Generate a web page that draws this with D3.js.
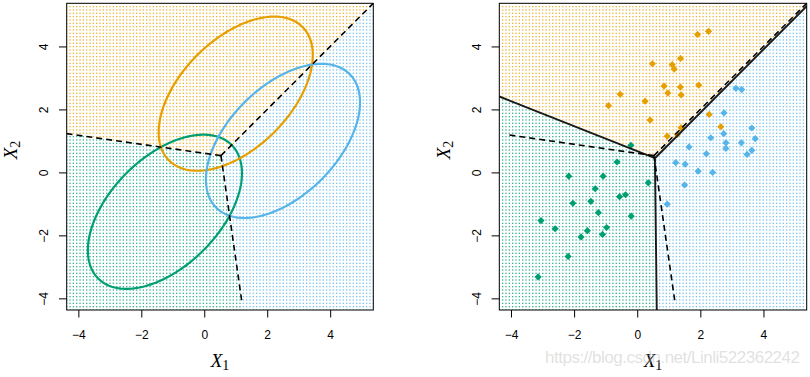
<!DOCTYPE html>
<html>
<head>
<meta charset="utf-8">
<script src="https://cdn.jsdelivr.net/npm/d3@7"></script>
<style>
  body { margin: 0; background: #fff; }
</style>
</head>
<body>
<svg id="chart" width="810" height="377"></svg>
<script>
// classes: 0 green, 1 orange, 2 blue
const classColors = ['#009E73', '#E69F00', '#56B4E9']
const trueMeans = [[-1.25, -1.25], [1, 2.5], [2.5, 1]]
const sharedCov = [[1, 0.5], [0.5, 1]]
const contourChi2 = 5.991   // 95% contour, 2 df
const tickValues = [-4, -2, 0, 2, 4]
const axisDomain = [-4.37, 5.37]
const gridN = 93

// observations (right panel)
const greenX = [-0.20, -0.64, -2.17, -1.08, 0.35, -1.33, -0.56, -0.37, -1.47, -2.04, -1.23, -0.19, -3.05, -0.97, -2.60, -1.58, -1.10, -1.78, -2.19, -3.14]
const greenY = [0.86, 0.33, -0.12, -0.12, -0.33, -0.52, -0.77, -0.71, -0.92, -0.98, -1.28, -1.39, -1.53, -1.75, -1.79, -1.85, -1.97, -2.05, -2.67, -3.32]
const orangeX = [1.91, 2.26, 0.48, 1.11, 1.17, 1.37, 0.85, 0.97, 1.37, 1.39, 1.95, -0.54, -0.91, 0.25, 0.41, 0.95, 1.27, 1.39, 2.28, 2.65]
const orangeY = [4.38, 4.48, 3.45, 3.42, 3.28, 3.62, 2.74, 2.52, 2.71, 2.46, 2.77, 2.48, 2.12, 2.26, 1.66, 1.15, 1.20, 1.42, 1.84, 1.45]
const blueX = [3.13, 3.31, 2.75, 3.63, 2.33, 2.74, 3.74, 1.64, 2.81, 2.81, 3.30, 3.63, 3.48, 2.19, 1.22, 1.52, 1.93, 2.39, 1.50, 0.95]
const blueY = [2.67, 2.63, 1.89, 1.41, 1.10, 1.23, 1.07, 0.81, 0.94, 0.76, 0.94, 0.70, 0.57, 0.59, 0.31, 0.26, 0.04, 0.00, -0.40, -1.01]

// estimated LDA boundaries: three rays from a vertex (left, up-right, down)
const ldaVertex = [0.56, 0.45]
const ldaRayEnds = [[-4.37, 2.41], [5.37, 5.28], [0.62, -4.37]]
const ldaRayCcwClass = [0, 1, 2]

const watermark = 'https://blog.csdn.net/Linli522362242'

const sansFont = '"Liberation Sans", Arial, Helvetica, sans-serif'
const serifFont = '"Liberation Serif", "Times New Roman", Times, serif'

// ---- Bayes classifier from the true parameters
const inv2 = m => {
    const det = m[0][0] * m[1][1] - m[0][1] * m[1][0]
    return [[m[1][1] / det, -m[0][1] / det], [-m[1][0] / det, m[0][0] / det]]
}
const mul = (m, v) => [m[0][0] * v[0] + m[0][1] * v[1], m[1][0] * v[0] + m[1][1] * v[1]]
const sub = (a, b) => [a[0] - b[0], a[1] - b[1]]
const dot = (a, b) => a[0] * b[0] + a[1] * b[1]

const covInv = inv2(sharedCov)
const bayesW = trueMeans.map(mu => mul(covInv, mu))
const bayesC = trueMeans.map((mu, k) => -0.5 * dot(mu, bayesW[k]))
const delta = (p, k) => dot(bayesW[k], p) + bayesC[k]
const bayesClass = p => d3.maxIndex([0, 1, 2], k => delta(p, k))

const bayesVertex = mul(
    inv2([sub(bayesW[0], bayesW[1]), sub(bayesW[0], bayesW[2])]),
    [bayesC[1] - bayesC[0], bayesC[2] - bayesC[0]]
)

function bayesRays(clip) {
    return [[0, 1, 2], [1, 2, 0], [0, 2, 1]].map(([k, l, m]) => {
        const n = sub(bayesW[k], bayesW[l])
        let d = [-n[1], n[0]]
        if (dot(sub(bayesW[k], bayesW[m]), d) < 0) d = [-d[0], -d[1]]
        const lims = [clip.x, clip.y]
        const t = d3.min([0, 1].filter(i => d[i] !== 0).map(i =>
            ((d[i] > 0 ? lims[i][1] : lims[i][0]) - bayesVertex[i]) / d[i]))
        return [bayesVertex, [bayesVertex[0] + t * d[0], bayesVertex[1] + t * d[1]]]
    })
}

// ---- estimated LDA classifier (sector around the vertex)
const rayAngles = ldaRayEnds.map(e => {
    const a = Math.atan2(e[1] - ldaVertex[1], e[0] - ldaVertex[0])
    return a < 0 ? a + 2 * Math.PI : a
})
function ldaClass(p) {
    let a = Math.atan2(p[1] - ldaVertex[1], p[0] - ldaVertex[0])
    if (a < 0) a += 2 * Math.PI
    let best = -1, bestAngle = -Infinity
    rayAngles.forEach((r, i) => { if (r <= a && r > bestAngle) { best = i; bestAngle = r } })
    if (best < 0) best = d3.maxIndex(rayAngles)
    return ldaRayCcwClass[best]
}

class DecisionPanel {

    constructor(_config) {
        this.config = {
            parentElement: _config.parentElement,
            id: _config.id,
            left: _config.left,
            top: _config.top,
            width: _config.width,
            height: _config.height,
            classify: _config.classify,
            bayesClip: _config.bayesClip
        }
        this.initVis()
    }

    initVis() {
        let vis = this
        const c = vis.config

        vis.chart = c.parentElement.append('g')
            .attr('transform', `translate(${c.left}, ${c.top})`)

        vis.xScale = d3.scaleLinear().domain(axisDomain).range([0, c.width])
        vis.yScale = d3.scaleLinear().domain(axisDomain).range([c.height, 0])
        vis.line = d3.line().x(d => vis.xScale(d[0])).y(d => vis.yScale(d[1]))

        c.parentElement.append('clipPath').attr('id', c.id)
            .append('rect').attr('width', c.width).attr('height', c.height)

        vis.plot = vis.chart.append('g').attr('clip-path', `url(#${c.id})`)

        // background grid coloured by predicted class
        const g = d3.range(gridN).map(i => axisDomain[0] + i * (axisDomain[1] - axisDomain[0]) / (gridN - 1))
        vis.grid = d3.cross(g, g).map(p => ({ p: p, k: c.classify(p) }))
        vis.plot.append('g').selectAll('rect')
            .data(vis.grid)
            .join('rect')
                .attr('x', d => vis.xScale(d.p[0]) - 0.65)
                .attr('y', d => vis.yScale(d.p[1]) - 0.65)
                .attr('width', 1.3)
                .attr('height', 1.3)
                .attr('fill', d => classColors[d.k])
                .attr('fill-opacity', 0.8)

        vis.drawAxes()
    }

    drawAxes() {
        let vis = this
        const c = vis.config
        const fmt = d3.format('')

        const xAxis = vis.chart.append('g')
            .attr('transform', `translate(0, ${c.height})`)
            .call(d3.axisBottom(vis.xScale).tickValues(tickValues).tickFormat(fmt).tickSize(7.5).tickPadding(12.5))
        const yAxis = vis.chart.append('g')
            .call(d3.axisLeft(vis.yScale).tickValues(tickValues).tickFormat(fmt).tickSize(7.7))
        yAxis.selectAll('text')
            .attr('x', null).attr('dy', null)
            .attr('text-anchor', 'middle')
            .attr('transform', 'translate(-18.4, 0) rotate(-90)')

        for (const ax of [xAxis, yAxis]) {
            ax.select('.domain').remove()
            ax.attr('font-family', sansFont)
            ax.selectAll('line').attr('stroke', '#000').attr('stroke-width', 1)
            ax.selectAll('text').attr('font-size', 12).attr('fill', '#000')
        }

        vis.chart.append('rect')
            .attr('width', c.width).attr('height', c.height)
            .attr('fill', 'none').attr('stroke', '#000').attr('stroke-width', 1)

        const xt = vis.chart.append('text')
            .attr('x', c.width / 2).attr('y', 367.5 - c.top)
            .attr('text-anchor', 'middle')
            .style('font-family', serifFont)
            .style('font-size', '19px')
        xt.append('tspan').style('font-style', 'italic').text('X')
        xt.append('tspan').style('font-size', '14px').attr('dy', 3).text('1')

        const yt = vis.chart.append('text')
            .attr('transform', `translate(${-49.5}, ${150 - c.top}) rotate(-90)`)
            .attr('text-anchor', 'middle')
            .style('font-family', serifFont)
            .style('font-size', '19px')
        yt.append('tspan').style('font-style', 'italic').text('X')
        yt.append('tspan').style('font-size', '14px').attr('dy', 3).text('2')
    }

    drawEllipses() {
        let vis = this
        const r = Math.sqrt(contourChi2)
        const a = sharedCov[0][0], b = sharedCov[0][1], d = sharedCov[1][1]
        const L = [[Math.sqrt(a), 0], [b / Math.sqrt(a), Math.sqrt(d - b * b / a)]]
        const ts = d3.range(0, 2 * Math.PI, Math.PI / 120)
        const closed = d3.line().x(d => vis.xScale(d[0])).y(d => vis.yScale(d[1])).curve(d3.curveLinearClosed)
        vis.plot.selectAll('.ellipse')
            .data(trueMeans)
            .join('path')
                .attr('class', 'ellipse')
                .attr('fill', 'none')
                .attr('stroke', (d, i) => classColors[i])
                .attr('stroke-width', 2.2)
                .attr('d', mu => closed(ts.map(t => {
                    const z = mul(L, [r * Math.cos(t), r * Math.sin(t)])
                    return [mu[0] + z[0], mu[1] + z[1]]
                })))
    }

    drawPoints() {
        let vis = this
        const obs = [
            d3.zip(greenX, greenY).map(p => ({ p: p, k: 0 })),
            d3.zip(orangeX, orangeY).map(p => ({ p: p, k: 1 })),
            d3.zip(blueX, blueY).map(p => ({ p: p, k: 2 }))
        ].flat()
        const sym = d3.symbol(d3.symbolSquare, 26)
        vis.plot.selectAll('.point')
            .data(obs)
            .join('path')
                .attr('class', 'point')
                .attr('d', sym)
                .attr('fill', d => classColors[d.k])
                .attr('transform', d => `translate(${vis.xScale(d.p[0])}, ${vis.yScale(d.p[1])}) rotate(45)`)
    }

    drawLdaBoundaries() {
        let vis = this
        vis.plot.selectAll('.lda')
            .data(ldaRayEnds)
            .join('path')
                .attr('class', 'lda')
                .attr('fill', 'none')
                .attr('stroke', '#1a1a1a')
                .attr('stroke-width', 1.9)
                .attr('d', e => vis.line([ldaVertex, e]))
    }

    drawBayesBoundaries() {
        let vis = this
        vis.plot.selectAll('.bayes')
            .data(bayesRays(vis.config.bayesClip))
            .join('path')
                .attr('class', 'bayes')
                .attr('fill', 'none')
                .attr('stroke', '#000')
                .attr('stroke-width', 1.6)
                .attr('stroke-dasharray', '6,4')
                .attr('d', d => vis.line(d))
    }
}

const svg = d3.select('#chart')

const leftPanel = new DecisionPanel({
    parentElement: svg, id: 'clipL',
    left: 66.7, top: 3.3, width: 306.6, height: 306.7,
    classify: bayesClass,
    bayesClip: { x: [-4.37, 5.37], y: [-4.15, 5.37] }
})
leftPanel.drawEllipses()
leftPanel.drawBayesBoundaries()

const rightPanel = new DecisionPanel({
    parentElement: svg, id: 'clipR',
    left: 499.3, top: 3.3, width: 307.4, height: 306.7,
    classify: ldaClass,
    bayesClip: { x: [-4.17, 5.37], y: [-4.15, 5.37] }
})
rightPanel.drawPoints()
rightPanel.drawLdaBoundaries()
rightPanel.drawBayesBoundaries()

svg.append('text')
    .attr('x', 545).attr('y', 363)
    .style('font-family', sansFont)
    .style('font-size', '17px')
    .attr('textLength', 255)
    .attr('fill', '#bbb')
    .attr('fill-opacity', 0.45)
    .text(watermark)
</script>
</body>
</html>
